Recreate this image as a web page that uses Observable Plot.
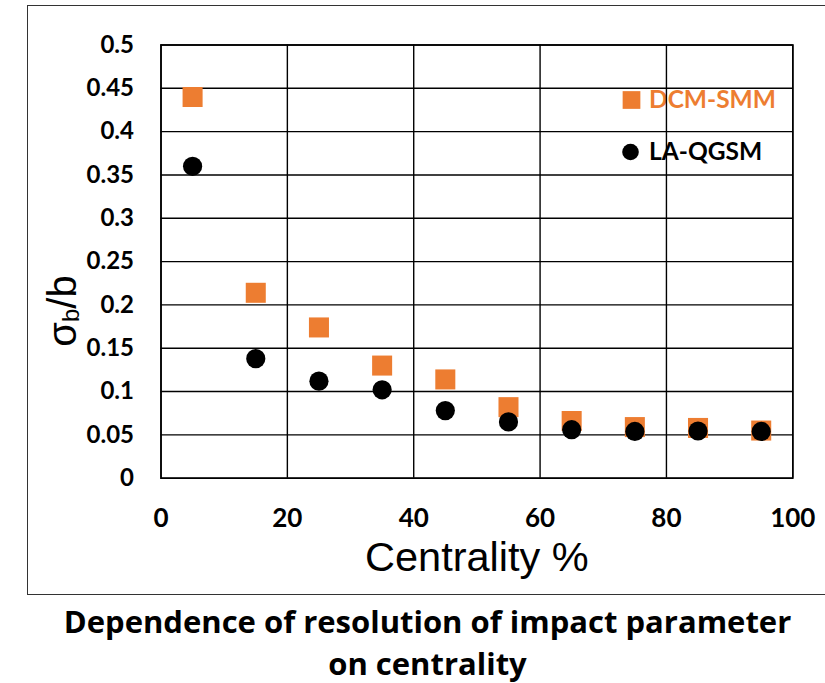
<!DOCTYPE html>
<html>
<head>
<meta charset="utf-8">
<script src="https://cdn.jsdelivr.net/npm/d3@7"></script>
<script src="https://cdn.jsdelivr.net/npm/@observablehq/plot@0.6"></script>
<style>
  html, body { margin: 0; padding: 0; background: #fff; }
  #wrap { position: relative; width: 825px; height: 683px; overflow: hidden; }
  #border { position: absolute; left: 27px; top: 5px; width: 800px; height: 590px; border: 1.5px solid #333; box-sizing: border-box; }
  #chart { position: absolute; left: 0; top: 0; }
  #caption { position: absolute; left: 15px; top: 600px; width: 825px; text-align: center;
    font-family: "Open Sans", sans-serif; font-weight: bold; font-size: 31px; line-height: 42px; color: #000; }
</style>
</head>
<body>
<div id="wrap">
  <div id="border"></div>
  <div id="chart"></div>
  <div id="caption">Dependence of resolution of impact parameter<br>on centrality</div>
</div>
<script>
const centrality = [5, 15, 25, 35, 45, 55, 65, 75, 85, 95];
const dcmSmm = [0.44, 0.214, 0.174, 0.130, 0.114, 0.082, 0.066, 0.059, 0.058, 0.055];
const laQgsm = [0.360, 0.138, 0.112, 0.102, 0.078, 0.065, 0.056, 0.054, 0.0545, 0.054];
const xTicks = [0, 20, 40, 60, 80, 100];
const xTickLabels = ["0", "20", "40", "60", "80", "100"];
const yTicks = [0, 0.05, 0.1, 0.15, 0.2, 0.25, 0.3, 0.35, 0.4, 0.45, 0.5];
const yTickLabels = ["0", "0.05", "0.1", "0.15", "0.2", "0.25", "0.3", "0.35", "0.4", "0.45", "0.5"];
const seriesNames = ["DCM-SMM", "LA-QGSM"];
const seriesColors = ["#ED7D31", "#000000"];

const dcmData = centrality.map((c, i) => ({c, v: dcmSmm[i]}));
const laData = centrality.map((c, i) => ({c, v: laQgsm[i]}));

const W = 825, H = 600;
const mL = 160.5, mT = 44.5, mR = 32.7, mB = H - 477.7;
const tickFont = "Lato, sans-serif";

const plot = Plot.plot({
  width: W, height: H,
  marginLeft: mL, marginTop: mT, marginRight: mR, marginBottom: mB,
  style: {background: "transparent", overflow: "visible"},
  x: {domain: [0, 100], axis: null},
  y: {domain: [0, 0.5], axis: null},
  marks: [
    // legend (drawn under grid, as in reference)
    Plot.dot([0], {frameAnchor: "top-left", dx: 470.5, dy: 55, symbol: "square", r: 10, fill: seriesColors[0]}),
    Plot.text([seriesNames[0]], {text: d => d, frameAnchor: "top-left", dx: 488, dy: 55, textAnchor: "start", lineAnchor: "middle",
      fill: seriesColors[0], fontFamily: tickFont, fontWeight: "bold", fontSize: 24.5}),
    Plot.dot([0], {frameAnchor: "top-left", dx: 469.5, dy: 107, symbol: "circle", r: 8.3, fill: seriesColors[1]}),
    Plot.text([seriesNames[1]], {text: d => d, frameAnchor: "top-left", dx: 488, dy: 107, textAnchor: "start", lineAnchor: "middle",
      fill: seriesColors[1], fontFamily: tickFont, fontWeight: "bold", fontSize: 24.5}),
    Plot.gridY(yTicks, {stroke: "#000", strokeOpacity: 1, strokeWidth: 1.4}),
    Plot.gridX(xTicks, {stroke: "#000", strokeOpacity: 1, strokeWidth: 1.4}),
    Plot.frame({stroke: "#000", strokeWidth: 1.6}),
    Plot.axisY(yTicks, {tickSize: 0, tickPadding: 27, tickFormat: (d, i) => yTickLabels[i],
      fontFamily: tickFont, fontWeight: "bold", fontSize: 24, fill: "#000", label: null}),
    Plot.axisX(xTicks, {tickSize: 0, tickPadding: 30, tickFormat: (d, i) => xTickLabels[i],
      fontFamily: tickFont, fontWeight: "bold", fontSize: 26, fill: "#000", label: null}),
    Plot.text(["Centrality %"], {text: d => d, frameAnchor: "bottom", dy: 80, lineAnchor: "middle",
      fontFamily: "Liberation Sans, Arial, sans-serif", fontSize: 41.5, fill: "#000"}),
    Plot.dot(dcmData, {x: "c", y: "v", symbol: "square", r: 11.3, fill: seriesColors[0]}),
    Plot.dot(laData, {x: "c", y: "v", symbol: "circle", r: 9.6, fill: seriesColors[1]})
  ]
});
document.getElementById("chart").appendChild(plot);

// y-axis title with subscript
const svg = d3.select(plot);
const yt = svg.append("text")
  .attr("transform", "translate(76,311) rotate(-90)")
  .attr("text-anchor", "middle")
  .attr("font-family", "Liberation Sans, Arial, sans-serif")
  .attr("font-size", 40)
  .attr("fill", "#000");
yt.append("tspan").text("σ");
yt.append("tspan").attr("font-size", 24).attr("dy", 3).text("b");
yt.append("tspan").attr("dy", -3).text("/b");
</script>
</body>
</html>
